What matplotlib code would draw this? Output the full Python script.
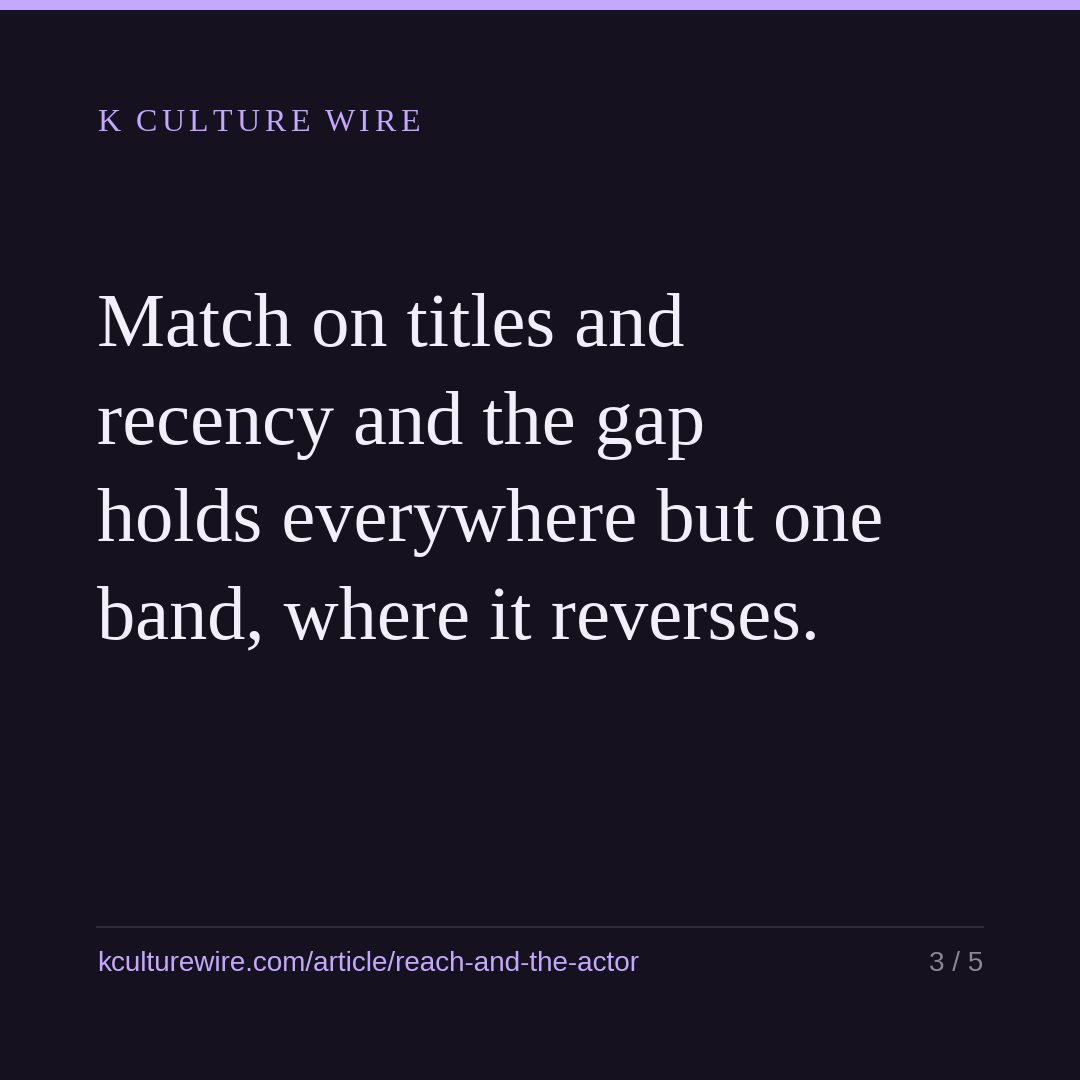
import matplotlib
matplotlib.use("Agg")
import matplotlib.pyplot as plt
from matplotlib.patches import Rectangle
from matplotlib.lines import Line2D

kicker = "K CULTURE WIRE"
headline_lines = [
    "Match on titles and",
    "recency and the gap",
    "holds everywhere but one",
    "band, where it reverses.",
]
footer_url = "kculturewire.com/article/reach-and-the-actor"
page_label = "3 / 5"

BG = "#15111f"
ACCENT = "#c4a8ff"
HEAD = "#f3effa"
RULE = "#2e2a3b"
GREY = "#8a8694"

W = H = 1080
fig = plt.figure(figsize=(10.8, 10.8), dpi=100, facecolor=BG)


def fx(px):
    return px / W


def fy(py):
    return 1 - py / H


# top accent bar
fig.patches.append(Rectangle((0, fy(10)), 1, fy(0) - fy(10), transform=fig.transFigure,
                             facecolor=ACCENT, edgecolor="none"))

# letter-spaced kicker
renderer = fig.canvas.get_renderer()
x = 97
spacing = 4.4
for ch in kicker:
    t = fig.text(fx(x), fy(131), ch, color=ACCENT, fontsize=23, family="Liberation Serif",
                 va="baseline", ha="left")
    if ch == " ":
        w = 6.5
    else:
        w = t.get_window_extent(renderer).width
    x += w + spacing

# headline
for i, line in enumerate(headline_lines):
    fig.text(fx(97), fy(346 + i * 97.5), line, color=HEAD, fontsize=55,
             family="Liberation Serif", va="baseline", ha="left")

# footer rule
fig.lines.append(Line2D([fx(97), fx(983)], [fy(927), fy(927)], transform=fig.transFigure,
                        color=RULE, linewidth=1.5))

fig.text(fx(97), fy(971), footer_url, color=ACCENT, fontsize=20.1,
         family="Liberation Sans", va="baseline", ha="left")
fig.text(fx(983), fy(971), page_label, color=GREY, fontsize=20.1,
         family="Liberation Sans", va="baseline", ha="right")

fig.savefig("out.png", dpi=100, facecolor=BG)
